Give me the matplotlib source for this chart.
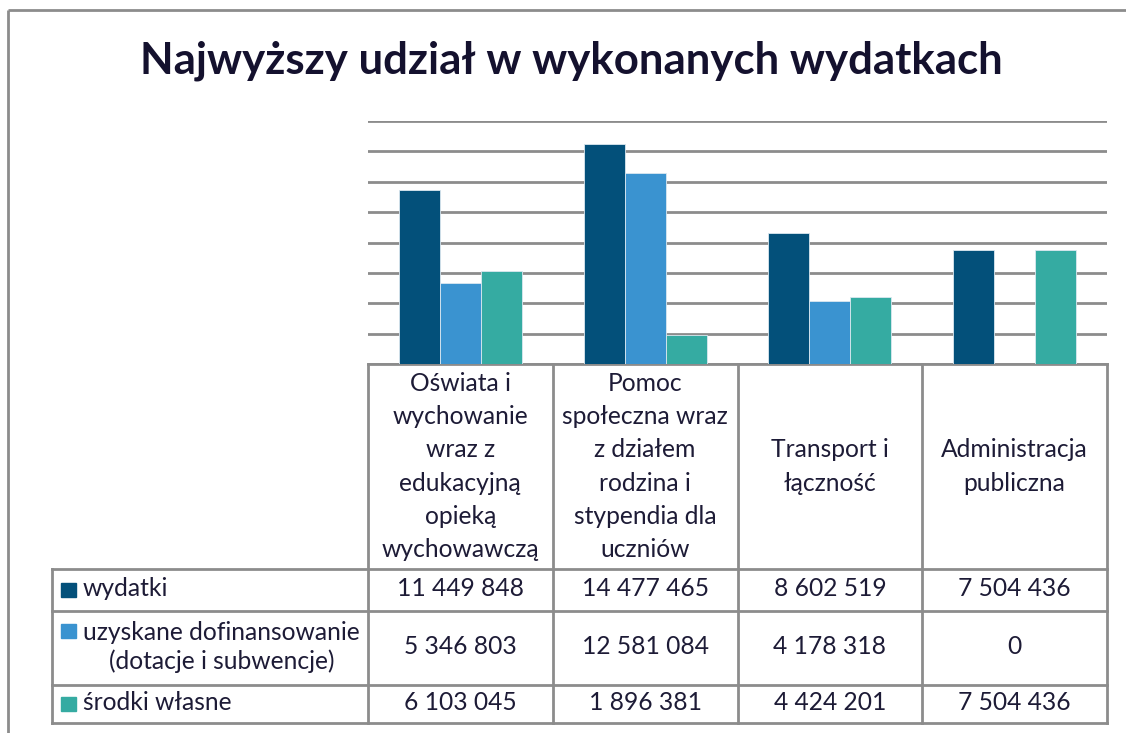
import numpy as np
import matplotlib
matplotlib.use("Agg")
import matplotlib.pyplot as plt
from matplotlib.patches import Rectangle

plt.rcParams['font.family'] = ['Lato', 'DejaVu Sans']

title = "Najwyższy udział w wykonanych wydatkach"
categories = [
    "Oświata i\nwychowanie\nwraz z\nedukacyjną\nopieką\nwychowawczą",
    "Pomoc\nspołeczna wraz\nz działem\nrodzina i\nstypendia dla\nuczniów",
    "Transport i\nłączność",
    "Administracja\npubliczna",
]
series_names = ["wydatki", "uzyskane dofinansowanie\n(dotacje i subwencje)", "środki własne"]
wydatki = [11449848, 14477465, 8602519, 7504436]
dofinansowanie = [5346803, 12581084, 4178318, 0]
srodki_wlasne = [6103045, 1896381, 4424201, 7504436]
series = [wydatki, dofinansowanie, srodki_wlasne]
colors = ["#03507A", "#3A93D0", "#35ABA2"]

W, H = 1126, 733
fig = plt.figure(figsize=(W / 100, H / 100), dpi=100)
fig.patch.set_facecolor("white")

# pixel overlay
ov = fig.add_axes([0, 0, 1, 1])
ov.set_xlim(0, W)
ov.set_ylim(H, 0)
ov.axis("off")

txt_color = "#1d1b36"
line_color = "#8c8c8c"

# outer frame (only top/left visible)
ov.plot([8, W], [10, 10], color=line_color, lw=2, solid_capstyle="butt")
ov.plot([8, 8], [10, H], color=line_color, lw=2, solid_capstyle="butt")

# title (fit to width)
t = ov.text(571, 61, title, ha="center", va="center", fontsize=40,
            fontweight="bold", color="#14112e")
fig.canvas.draw()
r = fig.canvas.get_renderer()
wpx = t.get_window_extent(r).width
t.set_fontsize(40 * 863 / wpx)

# plot area
x0, x1 = 368, 1107
yb, yt = 364, 121
ax = fig.add_axes([x0 / W, (H - yb) / H, (x1 - x0) / W, (yb - yt) / H])
ax.set_facecolor("none")
ax.set_xlim(-0.5, len(categories) - 0.5)
ax.set_ylim(0, 16e6)
ax.set_yticks(np.arange(0, 16e6 + 1, 2e6))
ax.set_xticks([])
ax.tick_params(axis="y", length=0, labelleft=False)
for s in ax.spines.values():
    s.set_visible(False)
ax.grid(axis="y", color=line_color, lw=2)
ax.set_axisbelow(True)

bw = 41 / 185
x = np.arange(len(categories))
for j, (vals, c) in enumerate(zip(series, colors)):
    ax.bar(x + (j - 1) * bw, vals, width=bw, color=c, edgecolor="#dbe8f0",
           linewidth=0.6, zorder=3)

# table
col_w = (x1 - x0) / len(categories)
col_edges = [x0 + i * col_w for i in range(len(categories) + 1)]
tbl_left = 52
rows_y = [569, 611, 685, 723]
lw = 2
ov.plot([x0, x1], [yb, yb], color=line_color, lw=lw, solid_capstyle="projecting")
for yy in rows_y:
    ov.plot([tbl_left, x1], [yy, yy], color=line_color, lw=lw, solid_capstyle="projecting")
for xx in col_edges:
    ov.plot([xx, xx], [yb, rows_y[-1]], color=line_color, lw=lw, solid_capstyle="projecting")
ov.plot([tbl_left, tbl_left], [rows_y[0], rows_y[-1]], color=line_color, lw=lw,
        solid_capstyle="projecting")

# fit table font size
probe = ov.text(0, 0, "uzyskane dofinansowanie", fontsize=15)
fig.canvas.draw()
fs = 15 * 277 / probe.get_window_extent(r).width
probe.remove()

line_h = 33.2
hdr_c = (yb + rows_y[0]) / 2
for i, cat in enumerate(categories):
    lines = cat.split("\n")
    n = len(lines)
    cx = (col_edges[i] + col_edges[i + 1]) / 2
    for k, ln in enumerate(lines):
        ov.text(cx, hdr_c + (k - (n - 1) / 2) * line_h, ln, ha="center",
                va="center", fontsize=fs, color=txt_color)

row_bounds = [(rows_y[0], rows_y[1]), (rows_y[1], rows_y[2]), (rows_y[2], rows_y[3])]
for j, (name, vals, c) in enumerate(zip(series_names, series, colors)):
    ya, yb2 = row_bounds[j]
    rc = (ya + yb2) / 2
    lines = name.split("\n")
    n = len(lines)
    first_y = rc - (n - 1) / 2 * 35
    ov.add_patch(Rectangle((61, first_y - 7), 15, 14, color=c, zorder=3))
    ov.text(83, rc - 1, name, ha="left", va="center", fontsize=fs,
            color=txt_color, multialignment="center", linespacing=1.25)
    for i, v in enumerate(vals):
        cx = (col_edges[i] + col_edges[i + 1]) / 2
        ov.text(cx, rc - 1, f"{v:,}".replace(",", " "), ha="center", va="center",
                fontsize=fs, color=txt_color)

fig.savefig("out.png", dpi=100)
